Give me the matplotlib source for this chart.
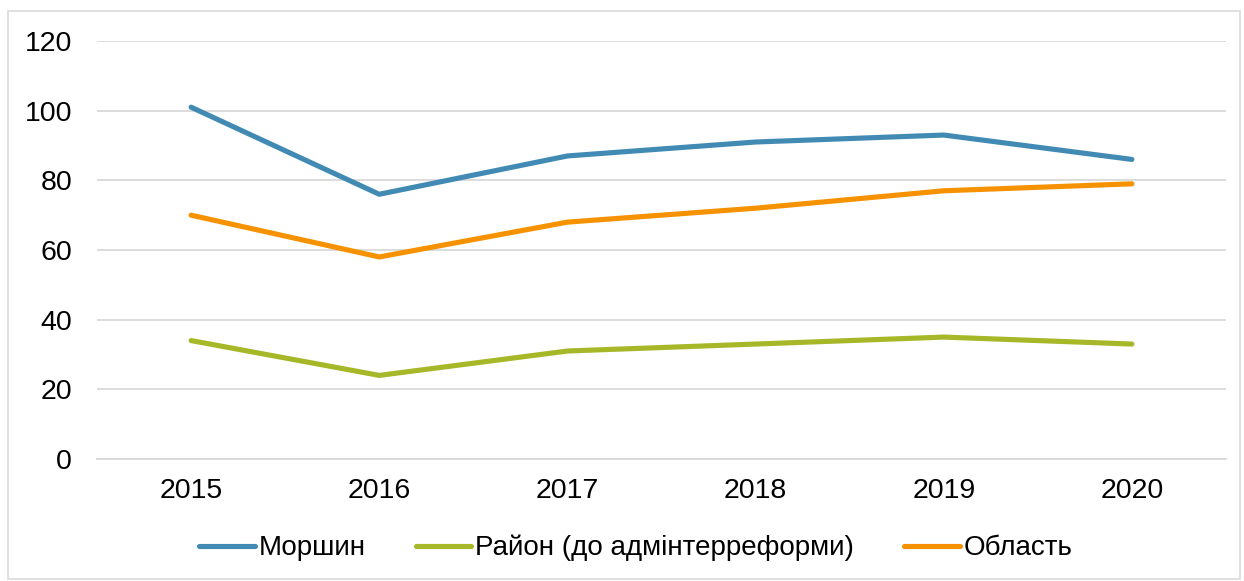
import matplotlib
matplotlib.use("Agg")
import matplotlib.pyplot as plt
from matplotlib.patches import Rectangle

years = ["2015", "2016", "2017", "2018", "2019", "2020"]
morshyn = [101, 76, 87, 91, 93, 86]
rayon = [34, 24, 31, 33, 35, 33]
oblast = [70, 58, 68, 72, 77, 79]
labels = ["Моршин", "Район (до адмінтерреформи)", "Область"]
colors = ["#418AB3", "#A6B727", "#F69200"]
yticks = [0, 20, 40, 60, 80, 100, 120]

plt.rcParams['font.family'] = ['Liberation Sans', 'DejaVu Sans']

W, H = 1244, 581
fig = plt.figure(figsize=(W/100, H/100), dpi=100)
ax = fig.add_axes([97/W, 1-459/H, (1226-97)/W, (459-41)/H])

x = list(range(len(years)))
handles = []
for series, lab, c in zip([morshyn, rayon, oblast], labels, colors):
    h, = ax.plot(x, series, color=c, lw=3.7, solid_capstyle='round', solid_joinstyle='round', label=lab)
    handles.append(h)

ax.set_xlim(-0.5, len(years)-0.5)
ax.set_ylim(0, 120)
ax.set_yticks(yticks)
ax.set_xticks(x)
ax.set_xticklabels(years)
ax.grid(axis='y', color='#D9D9D9', lw=1.3)
ax.set_axisbelow(True)
for s in ['top', 'right', 'left']:
    ax.spines[s].set_visible(False)
ax.spines['bottom'].set_color('#D9D9D9')
ax.spines['bottom'].set_linewidth(1.3)
ax.tick_params(axis='both', length=0, labelsize=20.5, colors='black')
ax.tick_params(axis='y', pad=18)
ax.tick_params(axis='x', pad=14)

leg = fig.legend(handles=handles, loc='center', bbox_to_anchor=(636/W, 1-548/H), ncol=3,
                 frameon=False, fontsize=20, handlelength=2.0, handletextpad=0.15,
                 columnspacing=1.8)

fig.patches.append(Rectangle((8/W, 0.003), 1-8/W-0.003, 1-11/H-0.003, transform=fig.transFigure,
                             fill=False, edgecolor='#D9D9D9', lw=1.2))

fig.savefig("out.png", dpi=100)
